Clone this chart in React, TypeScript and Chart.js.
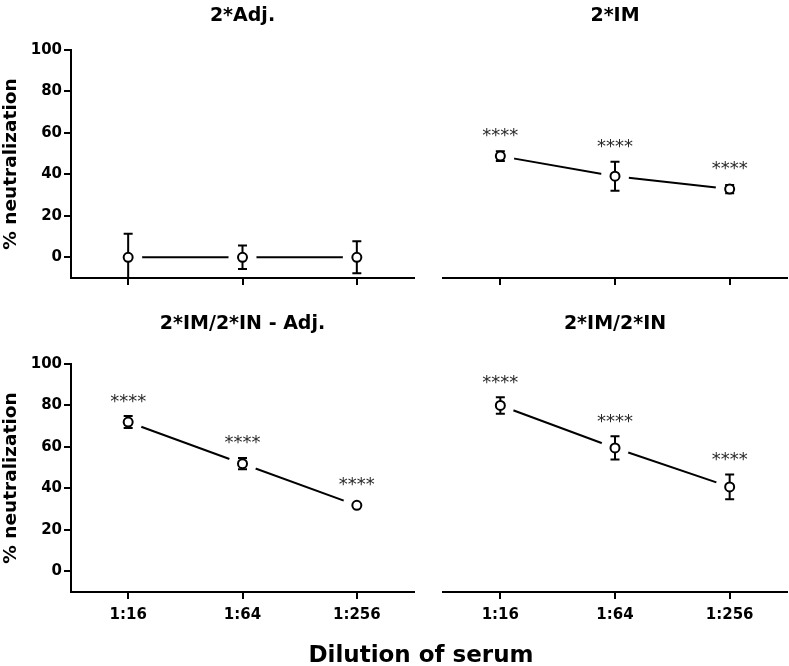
import React, { useEffect, useRef } from 'react';
import { Chart, registerables } from 'chart.js';

Chart.register(...registerables);

// ---------- data ----------
const categories = ['1:16', '1:64', '1:256'];
const yTickValues = [0, 20, 40, 60, 80, 100];
const yMin = -10;
const yMax = 100;

const adjTitle = '2*Adj.';
const adjMean = [0, 0, 0];
const adjSd = [11.4, 5.7, 7.7];
const adjStars = ['', '', ''];

const imTitle = '2*IM';
const imMean = [48.8, 39.1, 32.9];
const imSd = [2.4, 7.0, 2.0];
const imStars = ['****', '****', '****'];

const imInAdjTitle = '2*IM/2*IN - Adj.';
const imInAdjMean = [72.0, 51.9, 31.8];
const imInAdjSd = [2.9, 2.7, 0];
const imInAdjStars = ['****', '****', '****'];

const imInTitle = '2*IM/2*IN';
const imInMean = [80.0, 59.5, 40.7];
const imInSd = [4.0, 5.6, 6.0];
const imInStars = ['****', '****', '****'];

const yAxisLabel = '% neutralization';
const xAxisLabel = 'Dilution of serum';

// ---------- styling ----------
const FONT = '"DejaVu Sans"';

type PanelProps = {
  title: string;
  mean: number[];
  sd: number[];
  stars: string[];
  left: number;
  top: number;
  width: number;
  height: number;
  showY: boolean;
  showXLabels: boolean;
  xHeight: number;
  pad: { left: number; right: number; top: number; bottom: number };
  titlePad: { top: number; bottom: number };
};

function Panel(p: PanelProps) {
  const ref = useRef<HTMLCanvasElement>(null);
  useEffect(() => {
    const canvas = ref.current!;
    const errorBars = {
      id: 'errorBars',
      beforeDatasetDraw(chart: any, args: any) {
        if (args.index !== 0) return;
        const { ctx, chartArea, scales } = chart;
        const xs = scales.x;
        const ys = scales.y;
        ctx.save();
        ctx.beginPath();
        ctx.rect(chartArea.left, chartArea.top - 30, chartArea.right - chartArea.left, chartArea.bottom - chartArea.top + 30);
        ctx.clip();
        ctx.strokeStyle = '#000';
        ctx.lineWidth = 2;
        p.mean.forEach((m, i) => {
          const s = p.sd[i];
          if (!s) return;
          const px = xs.getPixelForValue(i);
          const yHi = ys.getPixelForValue(m + s);
          const yLo = ys.getPixelForValue(m - s);
          ctx.beginPath();
          ctx.moveTo(px, yHi);
          ctx.lineTo(px, yLo);
          ctx.moveTo(px - 4.5, yHi);
          ctx.lineTo(px + 4.5, yHi);
          ctx.moveTo(px - 4.5, yLo);
          ctx.lineTo(px + 4.5, yLo);
          ctx.stroke();
        });
        ctx.restore();
      },
    };
    const starLabels = {
      id: 'starLabels',
      afterDatasetsDraw(chart: any) {
        const { ctx, scales } = chart;
        const xs = scales.x;
        const ys = scales.y;
        ctx.save();
        ctx.font = '18px "DejaVu Sans"';
        ctx.fillStyle = '#2a2a2a';
        ctx.textAlign = 'center';
        ctx.textBaseline = 'middle';
        p.stars.forEach((s, i) => {
          if (!s) return;
          const px = xs.getPixelForValue(i);
          const topY = Math.min(ys.getPixelForValue(p.mean[i] + p.sd[i]), ys.getPixelForValue(p.mean[i]) - 6);
          ctx.fillText(s, px, topY - 14);
        });
        ctx.restore();
      },
    };
    const chart = new Chart(canvas, {
      type: 'line',
      data: {
        labels: categories,
        datasets: [
          {
            data: p.mean,
            showLine: false,
            pointRadius: 4.5,
            pointHoverRadius: 4.5,
            pointBorderWidth: 2,
            pointBorderColor: '#000',
            pointBackgroundColor: '#fff',
            order: 0,
          },
          {
            data: p.mean,
            borderColor: '#000',
            borderWidth: 2,
            tension: 0,
            pointRadius: 14,
            pointHoverRadius: 14,
            pointBorderWidth: 0,
            pointBorderColor: 'rgba(0,0,0,0)',
            pointBackgroundColor: '#fff',
            order: 1,
          },
        ],
      },
      options: {
        responsive: false,
        animation: false,
        events: [],
        layout: { padding: p.pad, autoPadding: false },
        plugins: {
          legend: { display: false },
          tooltip: { enabled: false },
          title: {
            display: true,
            text: p.title,
            fullSize: false,
            color: '#000',
            font: { family: FONT, size: 19, weight: 'bold', lineHeight: 1.2 },
            padding: p.titlePad,
          },
        },
        scales: {
          x: {
            type: 'category',
            offset: true,
            grid: {
              offset: false,
              drawOnChartArea: false,
              drawTicks: true,
              tickLength: 7,
              color: '#000',
              lineWidth: 2,
            },
            border: { display: true, color: '#000', width: 2 },
            ticks: {
              display: p.showXLabels,
              color: '#000',
              padding: 7,
              maxRotation: 0,
              font: { family: FONT, size: 15, weight: 'bold' },
            },
            afterFit: (s: any) => {
              s.height = p.xHeight;
              s.paddingLeft = 0;
              s.paddingRight = 0;
            },
          },
          y: {
            display: p.showY,
            min: yMin,
            max: yMax,
            afterBuildTicks: (s: any) => {
              s.ticks = yTickValues.map((v) => ({ value: v }));
            },
            grid: {
              drawOnChartArea: false,
              drawTicks: true,
              tickLength: 7,
              color: '#000',
              lineWidth: 2,
            },
            border: { display: true, color: '#000', width: 2 },
            ticks: {
              color: '#000',
              padding: 2,
              font: { family: FONT, size: 15, weight: 'bold' },
            },
            title: {
              display: true,
              text: yAxisLabel,
              color: '#000',
              padding: { top: 0, bottom: 0 },
              font: { family: FONT, size: 18.5, weight: 'bold', lineHeight: 1.2 },
            },
            afterFit: (s: any) => {
              s.width = p.showY ? 71 : 0;
            },
          },
        },
      },
      plugins: [errorBars, starLabels],
    } as any);
    return () => chart.destroy();
  }, []);
  return (
    <canvas
      ref={ref}
      width={p.width}
      height={p.height}
      style={{ position: 'absolute', left: p.left, top: p.top, width: p.width, height: p.height }}
    />
  );
}

export default function App() {
  const topH = 290;
  const botH = 376;
  const leftW = 420;
  const rightW = 369;
  const topTitlePad = { top: 5, bottom: 22.2 };
  const botTitlePad = { top: 23, bottom: 28.2 };
  return (
    <div style={{ position: 'absolute', left: 0, top: 0, width: 789, height: 666, background: '#fff', overflow: 'hidden' }}>
      <Panel title={adjTitle} mean={adjMean} sd={adjSd} stars={adjStars}
        left={0} top={0} width={leftW} height={topH} showY={true} showXLabels={false} xHeight={12}
        pad={{ left: 0, right: 6, top: 0, bottom: 0 }} titlePad={topTitlePad} />
      <Panel title={imTitle} mean={imMean} sd={imSd} stars={imStars}
        left={leftW} top={0} width={rightW} height={topH} showY={false} showXLabels={false} xHeight={12}
        pad={{ left: 23, right: 2, top: 0, bottom: 0 }} titlePad={topTitlePad} />
      <Panel title={imInAdjTitle} mean={imInAdjMean} sd={imInAdjSd} stars={imInAdjStars}
        left={0} top={topH} width={leftW} height={botH} showY={true} showXLabels={true} xHeight={74}
        pad={{ left: 0, right: 6, top: 0, bottom: 0 }} titlePad={botTitlePad} />
      <Panel title={imInTitle} mean={imInMean} sd={imInSd} stars={imInStars}
        left={leftW} top={topH} width={rightW} height={botH} showY={false} showXLabels={true} xHeight={74}
        pad={{ left: 23, right: 2, top: 0, bottom: 0 }} titlePad={botTitlePad} />
      <div
        style={{
          position: 'absolute',
          left: 221,
          width: 400,
          top: 643,
          textAlign: 'center',
          fontFamily: FONT,
          fontWeight: 'bold',
          fontSize: 23,
          lineHeight: '23px',
          color: '#000',
          whiteSpace: 'nowrap',
        }}
      >
        {xAxisLabel}
      </div>
    </div>
  );
}
